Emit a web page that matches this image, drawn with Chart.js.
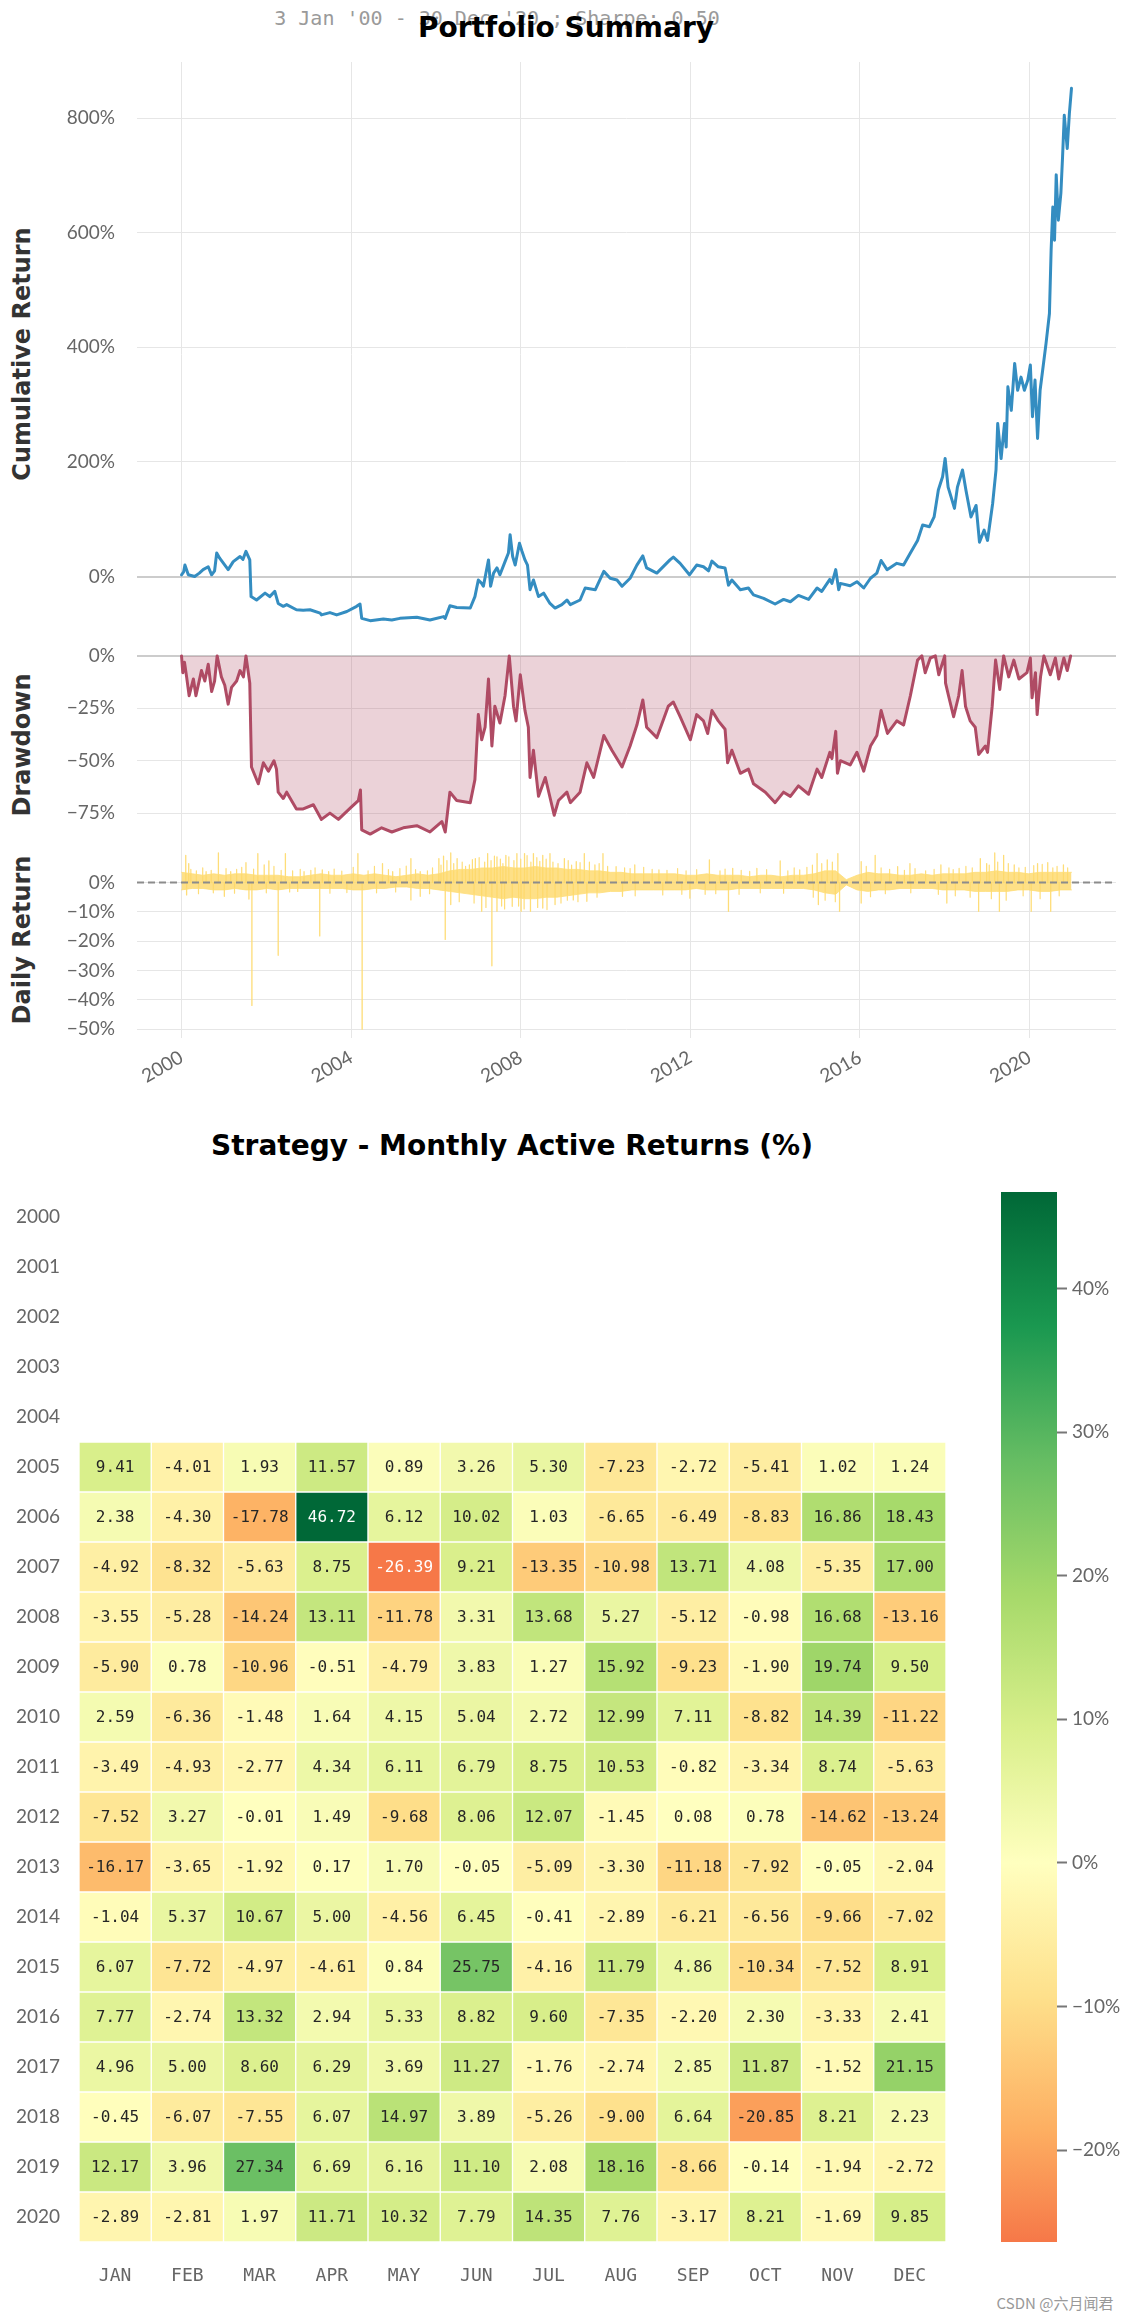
<!DOCTYPE html>
<html>
<head>
<meta charset="utf-8">
<script src="https://cdn.jsdelivr.net/npm/chart.js@4.4.1/dist/chart.umd.min.js"></script>
<style>
  body { margin: 0; background: #fff; width: 1139px; height: 2317px; position: relative; overflow: hidden; font-family: Lato, sans-serif; }
  canvas { position: absolute; }
  .txt { position: absolute; white-space: nowrap; transform: translate(-50%, -50%); line-height: 1; }
  .ylab { position: absolute; white-space: nowrap; font: bold 24px 'DejaVu Sans'; color: #333; line-height: 1;
          transform: translate(-50%, -50%) rotate(-90deg); }
</style>
</head>
<body>
<div class="txt" style="left:497px;top:18px;font:20px 'DejaVu Sans Mono';color:#9a9a9a;">3 Jan '00 - 30 Dec '20 ; Sharpe: 0.50</div>
<div class="txt" style="left:566px;top:27px;font:bold 28px 'DejaVu Sans';color:#000;">Portfolio Summary</div>
<div class="ylab" style="left:22px;top:354px;">Cumulative Return</div>
<div class="ylab" style="left:22px;top:745px;">Drawdown</div>
<div class="ylab" style="left:22px;top:940px;">Daily Return</div>
<div class="txt" style="left:512px;top:1145px;font:bold 28px 'DejaVu Sans';color:#000;">Strategy - Monthly Active Returns (%)</div>
<div class="txt" style="left:1055px;top:2302px;font:15px 'Noto Sans CJK SC';color:#999;">CSDN @六月闻君</div>

<canvas id="cum" width="1139" height="585" style="left:0;top:62px"></canvas>
<canvas id="dd" width="1139" height="196" style="left:0;top:647px"></canvas>
<canvas id="daily" width="1139" height="257" style="left:0;top:843px"></canvas>
<canvas id="heat" width="960" height="1120" style="left:0;top:1180px"></canvas>
<canvas id="cbar" width="138" height="1050" style="left:1001px;top:1192px"></canvas>

<script>
// ---- time axis
const yearTicks = [2000, 2004, 2008, 2012, 2016, 2020];
const X_MIN = 1998.95, X_MAX = 2022.04;

// ---- cumulative return (%)
const cumDates = [2000.00, 2000.05, 2000.08, 2000.16, 2000.31, 2000.42, 2000.51, 2000.63, 2000.71, 2000.78,
  2000.83, 2000.90, 2001.00, 2001.10, 2001.22, 2001.38, 2001.45, 2001.52, 2001.61, 2001.64,
  2001.77, 2001.97, 2002.08, 2002.20, 2002.28, 2002.40, 2002.48, 2002.71, 2002.87, 2003.03,
  2003.27, 2003.30, 2003.50, 2003.66, 2003.90, 2004.13, 2004.21, 2004.25, 2004.45, 2004.76,
  2004.96, 2005.15, 2005.55, 2005.86, 2006.18, 2006.22, 2006.33, 2006.49, 2006.81, 2006.92,
  2007.00, 2007.08, 2007.12, 2007.24, 2007.29, 2007.36, 2007.44, 2007.51, 2007.63, 2007.71,
  2007.75, 2007.81, 2007.87, 2007.97, 2008.03, 2008.10, 2008.16, 2008.22, 2008.30, 2008.42,
  2008.54, 2008.69, 2008.81, 2008.97, 2009.09, 2009.17, 2009.40, 2009.52, 2009.76, 2009.96,
  2010.11, 2010.27, 2010.39, 2010.58, 2010.74, 2010.88, 2010.97, 2011.21, 2011.52, 2011.60,
  2011.76, 2011.98, 2012.15, 2012.31, 2012.43, 2012.51, 2012.66, 2012.82, 2012.90, 2012.98,
  2013.18, 2013.37, 2013.49, 2013.73, 2014.00, 2014.20, 2014.36, 2014.55, 2014.79, 2014.99,
  2015.10, 2015.29, 2015.34, 2015.43, 2015.50, 2015.54, 2015.77, 2015.93, 2016.09, 2016.25,
  2016.40, 2016.50, 2016.64, 2016.87, 2017.03, 2017.19, 2017.36, 2017.48, 2017.64, 2017.75,
  2017.85, 2017.95, 2018.01, 2018.08, 2018.15, 2018.23, 2018.30, 2018.42, 2018.50, 2018.62,
  2018.74, 2018.82, 2018.93, 2019.01, 2019.13, 2019.21, 2019.25, 2019.33, 2019.41, 2019.45,
  2019.49, 2019.57, 2019.65, 2019.72, 2019.80, 2019.88, 2019.96, 2020.02, 2020.07, 2020.13,
  2020.19, 2020.25, 2020.31, 2020.39, 2020.47, 2020.51, 2020.55, 2020.59, 2020.63, 2020.68,
  2020.74, 2020.78, 2020.82, 2020.89, 2020.94, 2020.99];
const cumReturns = [3, 8, 20, 3, 0, 6, 12, 17, 3, 10,
  41, 32, 22, 12, 26, 35, 30, 44, 29, -35,
  -41, -29, -35, -26, -47, -52, -49, -58, -59, -58,
  -64, -67, -63, -67, -61, -52, -48, -73, -77, -74,
  -76, -73, -71, -76, -70, -73, -51, -54, -55, -35,
  -6, -12, -17, 29, -17, 6, 15, 3, 26, 41,
  73, 35, 20, 58, 44, 29, 20, -23, -6, -35,
  -29, -47, -55, -49, -41, -49, -41, -20, -23, 9,
  -3, -6, -17, -3, 20, 36, 15, 6, 29, 34,
  23, 3, 20, 17, 10, 27, 17, 15, -15, -6,
  -23, -20, -32, -38, -48, -40, -44, -33, -40, -20,
  -26, -5, -12, 12, -23, -12, -16, -9, -20, -3,
  6, 28, 12, 23, 20, 41, 63, 90, 87, 104,
  151, 174, 206, 156, 139, 119, 156, 186, 151, 104,
  124, 60, 81, 63, 127, 186, 267, 206, 267, 226,
  331, 290, 372, 325, 348, 325, 343, 369, 279, 343,
  241, 325, 360, 407, 459, 570, 645, 587, 701, 622,
  669, 733, 805, 747, 808, 852];
const cumTicks = [0, 200, 400, 600, 800];

// ---- drawdown (%)
const ddDates = [2000.00, 2000.03, 2000.07, 2000.12, 2000.18, 2000.28, 2000.34, 2000.47, 2000.55, 2000.63,
  2000.71, 2000.78, 2000.84, 2000.94, 2001.02, 2001.10, 2001.18, 2001.30, 2001.38, 2001.46,
  2001.52, 2001.61, 2001.65, 2001.81, 2001.93, 2002.05, 2002.18, 2002.24, 2002.28, 2002.40,
  2002.48, 2002.71, 2002.87, 2003.11, 2003.30, 2003.50, 2003.70, 2004.01, 2004.17, 2004.22,
  2004.25, 2004.45, 2004.72, 2004.96, 2005.23, 2005.55, 2005.86, 2006.14, 2006.22, 2006.33,
  2006.49, 2006.81, 2006.92, 2007.00, 2007.08, 2007.16, 2007.24, 2007.32, 2007.39, 2007.51,
  2007.63, 2007.73, 2007.83, 2007.89, 2007.99, 2008.10, 2008.18, 2008.22, 2008.30, 2008.42,
  2008.58, 2008.79, 2008.89, 2009.09, 2009.17, 2009.40, 2009.56, 2009.72, 2009.96, 2010.15,
  2010.39, 2010.58, 2010.74, 2010.88, 2010.97, 2011.21, 2011.48, 2011.60, 2011.76, 2012.00,
  2012.15, 2012.31, 2012.41, 2012.51, 2012.66, 2012.82, 2012.88, 2012.98, 2013.18, 2013.37,
  2013.49, 2013.77, 2014.00, 2014.20, 2014.36, 2014.55, 2014.79, 2014.99, 2015.10, 2015.29,
  2015.34, 2015.43, 2015.47, 2015.54, 2015.77, 2015.93, 2016.09, 2016.25, 2016.40, 2016.50,
  2016.65, 2016.87, 2017.03, 2017.19, 2017.36, 2017.46, 2017.54, 2017.66, 2017.78, 2017.86,
  2018.00, 2018.02, 2018.09, 2018.21, 2018.33, 2018.41, 2018.49, 2018.60, 2018.72, 2018.80,
  2018.96, 2019.01, 2019.12, 2019.20, 2019.30, 2019.39, 2019.51, 2019.63, 2019.75, 2019.94,
  2020.02, 2020.06, 2020.14, 2020.18, 2020.26, 2020.34, 2020.49, 2020.61, 2020.69, 2020.81,
  2020.89, 2020.97];
const ddValues = [0, -8, -3, -10, -19, -11, -19, -7, -12, -4,
  -17, -12, 0, -10, -14, -23, -15, -12, -7, -10,
  0, -13, -53, -61, -51, -55, -50, -54, -65, -68,
  -65, -73, -73, -71, -78, -75, -78, -72, -69, -64,
  -83, -85, -82, -84, -82, -81, -84, -79, -84, -65,
  -69, -70, -59, -28, -40, -34, -11, -43, -24, -32,
  -19, 0, -24, -31, -9, -26, -34, -58, -45, -67,
  -58, -76, -69, -65, -70, -65, -51, -58, -38, -45,
  -53, -43, -33, -21, -34, -39, -24, -22, -29, -40,
  -28, -31, -37, -26, -31, -35, -51, -45, -56, -54,
  -61, -65, -70, -65, -67, -62, -66, -54, -58, -46,
  -49, -36, -56, -50, -52, -46, -55, -43, -38, -26,
  -37, -31, -33, -19, -2, 0, -8, -1, 0, -9,
  0, -13, -19, -29, -19, -7, -24, -31, -34, -47,
  -43, -46, -24, -2, -16, 0, -10, -2, -11, -8,
  -1, -20, -8, -28, -10, 0, -9, -1, -11, -1,
  -7, 0];
const ddTicks = [0, -25, -50, -75];

// ---- daily return (%): quarterly envelope of the dense band
const dailyHi = [3.5, 3.0, 2.5, 3.0,  2.5, 3.0, 3.0, 2.5,  2.5, 2.5, 2.0, 2.0,  2.5, 3.0, 2.5, 2.5,
  3.0, 2.5, 3.0, 2.5,  2.0, 2.5, 3.0, 2.5,  3.0, 4.0, 4.5, 4.5,  5.0, 5.0, 5.5, 5.0,
  5.0, 5.5, 5.0, 5.0,  4.5, 4.5, 4.0, 4.0,  3.5, 3.5, 3.0, 3.0,  3.0, 3.0, 3.0, 2.5,
  2.5, 3.0, 2.5, 2.5,  2.5, 2.0, 2.5, 2.5,  2.0, 2.5, 2.5, 3.0,  4.0, 4.0, 1.0, 2.5,
  3.5, 3.0, 3.0, 2.5,  2.5, 3.0, 2.5, 3.0,  3.0, 3.0, 3.5, 3.5,  4.0, 3.5, 3.5, 3.0,
  3.5, 3.5, 3.5, 3.5];
const dailyLo = [-2.5, -2.0, -2.0, -2.5,  -2.5, -2.0, -2.5, -2.5,  -2.0, -2.5, -2.0, -2.0,  -2.0, -2.0, -2.0, -2.0,
  -2.5, -2.5, -2.0, -2.0,  -1.5, -1.5, -2.0, -2.0,  -2.5, -3.0, -3.5, -4.0,  -4.5, -5.0, -5.5, -5.0,
  -5.5, -5.5, -5.0, -5.0,  -4.5, -4.0, -3.5, -3.5,  -3.0, -3.0, -2.5, -2.5,  -2.5, -2.5, -2.5, -2.5,
  -2.0, -2.5, -2.5, -2.5,  -2.0, -2.0, -2.0, -2.0,  -2.0, -2.0, -2.0, -2.5,  -3.5, -4.0, -0.8, -2.5,
  -3.0, -2.5, -2.5, -2.0,  -2.0, -2.0, -2.0, -2.5,  -2.5, -2.5, -3.0, -3.0,  -3.0, -3.0, -2.5, -2.5,
  -3.0, -3.0, -2.5, -2.5];

// ---- daily return (%): single-day spikes that stick out of the band
const spikeDates = [2000.10, 2000.17, 2000.58, 2000.87, 2001.16, 2001.52, 2001.80, 2001.95, 2002.06, 2002.45,
  2002.89, 2003.32, 2003.47, 2004.16, 2004.74, 2004.98, 2005.41, 2005.63, 2006.07, 2006.18,
  2006.35, 2006.50, 2006.79, 2006.93, 2007.22, 2007.44, 2007.65, 2007.91, 2008.09, 2008.30,
  2008.52, 2008.69, 2009.03, 2009.31, 2009.50, 2009.75, 2009.94, 2010.25, 2010.69, 2011.26,
  2012.45, 2013.00, 2013.57, 2014.12, 2014.58, 2014.99, 2015.23, 2015.48, 2016.03, 2016.36,
  2016.89, 2017.18, 2017.91, 2018.34, 2018.84, 2018.99, 2019.18, 2019.39, 2019.64, 2020.19,
  2020.43, 2020.80,
  2000.12, 2001.01, 2001.59, 2001.66, 2002.28, 2002.74, 2003.26, 2004.26, 2005.41, 2005.63,
  2006.22, 2006.35, 2007.08, 2007.32, 2007.44, 2007.80, 2008.01, 2008.23, 2008.52, 2008.81,
  2009.24, 2009.56, 2010.40, 2011.99, 2012.90, 2015.02, 2015.52, 2016.03, 2018.05, 2018.80,
  2019.29, 2020.04, 2020.50];
const spikeValues = [9.3, 6.5, 3.7, 10.1, 3.7, 6.8, 9.9, 6.0, 7.4, 9.9,
  3.7, 4.3, 3.7, 9.9, 6.5, 3.7, 8.2, 3.7, 8.2, 9.0,
  10.1, 8.2, 6.0, 8.2, 9.9, 8.8, 9.3, 9.9, 9.9, 9.9,
  9.3, 9.9, 8.2, 7.1, 9.9, 6.0, 9.9, 5.4, 6.0, 4.3,
  7.7, 4.8, 4.8, 7.4, 4.3, 9.9, 7.7, 9.9, 7.1, 9.3,
  5.4, 6.5, 6.0, 4.8, 8.2, 6.5, 10.1, 9.3, 6.0, 6.5,
  6.8, 6.0,
  -4.2, -4.7, -5.6, -41.9, -24.8, -3.0, -18.2, -50.0, -5.9, -4.7,
  -19.4, -7.5, -9.8, -28.4, -9.8, -8.1, -9.8, -9.8, -8.7, -7.5,
  -5.9, -6.4, -4.7, -5.3, -9.8, -7.5, -9.8, -7.0, -7.0, -9.8,
  -9.8, -9.8, -9.8];

// ---- daily return (%): smaller spikes giving the band its ragged edge
const smallSpikeDates = [2000.22, 2000.35, 2000.50, 2000.70, 2001.05, 2001.30, 2001.42, 2001.70, 2002.18, 2002.35,
  2002.62, 2002.80, 2003.05, 2003.15, 2003.60, 2003.78, 2004.05, 2004.40, 2004.55, 2004.88,
  2005.15, 2005.30, 2005.52, 2005.80, 2005.92, 2006.12, 2006.26, 2006.42, 2006.62, 2006.70,
  2006.86, 2007.02, 2007.15, 2007.30, 2007.38, 2007.52, 2007.58, 2007.72, 2007.84, 2008.00,
  2008.15, 2008.24, 2008.38, 2008.45, 2008.60, 2008.76, 2008.88, 2009.12, 2009.20, 2009.40,
  2009.62, 2009.85, 2010.05, 2010.45, 2010.58, 2010.90, 2011.10, 2011.45, 2011.70, 2011.90,
  2012.15, 2012.70, 2012.82, 2013.20, 2013.40, 2013.80, 2014.30, 2014.45, 2014.75, 2014.88,
  2015.10, 2015.35, 2016.15, 2016.50, 2016.70, 2017.05, 2017.30, 2017.55, 2017.75, 2018.10,
  2018.20, 2018.50, 2018.65, 2019.05, 2019.25, 2019.50, 2019.75, 2019.90, 2020.10, 2020.30,
  2020.55, 2020.65, 2020.90,
  2000.40, 2000.75, 2001.25, 2002.00, 2002.55, 2003.50, 2003.90, 2004.60, 2005.05, 2005.85,
  2006.55, 2006.90, 2007.18, 2007.55, 2007.62, 2007.95, 2008.08, 2008.40, 2008.62, 2008.95,
  2009.10, 2009.35, 2009.80, 2010.70, 2011.35, 2011.80, 2012.35, 2012.60, 2013.15, 2013.65,
  2014.20, 2014.90, 2015.18, 2015.42, 2016.25, 2016.60, 2017.20, 2017.85, 2018.25, 2018.60,
  2019.10, 2019.45, 2019.85, 2020.25, 2020.70];
const smallSpikeValues = [4.5, 4.0, 5.0, 4.2, 4.8, 4.5, 5.2, 4.6, 5.5, 4.2,
  4.0, 4.5, 4.2, 5.0, 4.6, 3.9, 5.2, 4.0, 5.5, 4.4,
  4.8, 5.6, 4.4, 4.0, 5.0, 6.0, 7.5, 6.5, 7.0, 5.5,
  7.8, 8.5, 7.0, 7.5, 9.0, 8.0, 6.5, 8.8, 7.5, 8.0,
  9.2, 7.0, 8.5, 7.2, 8.0, 7.0, 6.5, 7.5, 6.0, 6.8,
  7.0, 6.5, 5.5, 5.0, 4.8, 5.2, 4.5, 4.2, 4.8, 4.0,
  4.4, 4.0, 4.6, 4.2, 3.8, 4.4, 4.0, 5.0, 5.2, 6.0,
  6.5, 7.0, 5.5, 5.0, 4.5, 4.2, 4.8, 4.0, 4.5, 5.0,
  4.4, 5.5, 5.0, 6.0, 7.0, 6.5, 5.0, 5.2, 5.8, 6.2,
  5.0, 5.5, 5.0,
  -3.8, -3.5, -3.6, -3.5, -3.2, -3.6, -3.4, -3.5, -3.2, -3.8,
  -6.5, -7.0, -8.5, -8.0, -9.0, -8.0, -9.0, -8.5, -9.2, -7.0,
  -6.0, -6.5, -5.0, -4.5, -4.2, -4.0, -4.0, -3.8, -4.0, -3.5,
  -3.6, -5.0, -6.0, -6.5, -4.8, -3.8, -3.5, -4.0, -4.5, -5.0,
  -5.5, -6.0, -4.5, -5.5, -4.5];
const dailyTicks = [0, -10, -20, -30, -40, -50];

// ---- monthly active returns heatmap (%)
const months = ['JAN', 'FEB', 'MAR', 'APR', 'MAY', 'JUN', 'JUL', 'AUG', 'SEP', 'OCT', 'NOV', 'DEC'];
const heatYears = [2000, 2001, 2002, 2003, 2004, 2005, 2006, 2007, 2008, 2009, 2010,
  2011, 2012, 2013, 2014, 2015, 2016, 2017, 2018, 2019, 2020];
const monthlyReturns = [
  null, null, null, null, null,
  [9.41, -4.01, 1.93, 11.57, 0.89, 3.26, 5.30, -7.23, -2.72, -5.41, 1.02, 1.24],
  [2.38, -4.30, -17.78, 46.72, 6.12, 10.02, 1.03, -6.65, -6.49, -8.83, 16.86, 18.43],
  [-4.92, -8.32, -5.63, 8.75, -26.39, 9.21, -13.35, -10.98, 13.71, 4.08, -5.35, 17.00],
  [-3.55, -5.28, -14.24, 13.11, -11.78, 3.31, 13.68, 5.27, -5.12, -0.98, 16.68, -13.16],
  [-5.90, 0.78, -10.96, -0.51, -4.79, 3.83, 1.27, 15.92, -9.23, -1.90, 19.74, 9.50],
  [2.59, -6.36, -1.48, 1.64, 4.15, 5.04, 2.72, 12.99, 7.11, -8.82, 14.39, -11.22],
  [-3.49, -4.93, -2.77, 4.34, 6.11, 6.79, 8.75, 10.53, -0.82, -3.34, 8.74, -5.63],
  [-7.52, 3.27, -0.01, 1.49, -9.68, 8.06, 12.07, -1.45, 0.08, 0.78, -14.62, -13.24],
  [-16.17, -3.65, -1.92, 0.17, 1.70, -0.05, -5.09, -3.30, -11.18, -7.92, -0.05, -2.04],
  [-1.04, 5.37, 10.67, 5.00, -4.56, 6.45, -0.41, -2.89, -6.21, -6.56, -9.66, -7.02],
  [6.07, -7.72, -4.97, -4.61, 0.84, 25.75, -4.16, 11.79, 4.86, -10.34, -7.52, 8.91],
  [7.77, -2.74, 13.32, 2.94, 5.33, 8.82, 9.60, -7.35, -2.20, 2.30, -3.33, 2.41],
  [4.96, 5.00, 8.60, 6.29, 3.69, 11.27, -1.76, -2.74, 2.85, 11.87, -1.52, 21.15],
  [-0.45, -6.07, -7.55, 6.07, 14.97, 3.89, -5.26, -9.00, 6.64, -20.85, 8.21, 2.23],
  [12.17, 3.96, 27.34, 6.69, 6.16, 11.10, 2.08, 18.16, -8.66, -0.14, -1.94, -2.72],
  [-2.89, -2.81, 1.97, 11.71, 10.32, 7.79, 14.35, 7.76, -3.17, 8.21, -1.69, 9.85]
];
const cbarTicks = [-20, -10, 0, 10, 20, 30, 40];

// ---- styling helpers
Chart.defaults.font.family = 'Lato';
const PLOT_LEFT = 137;
const GRID = '#e6e6e6';
const TICK_COLOR = '#666';
const YELLOW = '#fedd78';

function pct(v) {
  return (v < 0 ? '\u2212' + Math.abs(v) : String(v)) + '%';
}

function xAxis(labelHeight) {
  return {
    type: 'linear', min: X_MIN, max: X_MAX,
    afterBuildTicks: s => { s.ticks = yearTicks.map(v => ({ value: v })); },
    afterFit: s => { s.height = labelHeight; s.paddingLeft = 0; s.paddingRight = 0; },
    grid: { color: GRID, drawTicks: false },
    border: { display: false },
    ticks: {
      display: labelHeight > 0, autoSkip: false, minRotation: 30, maxRotation: 30, padding: 8,
      color: TICK_COLOR, font: { size: 19 }, callback: v => String(v)
    }
  };
}

function yAxis(min, max, ticks, zeroStrong) {
  return {
    min, max,
    afterBuildTicks: s => { s.ticks = ticks.map(v => ({ value: v })); },
    afterFit: s => { s.width = PLOT_LEFT; s.paddingTop = 0; s.paddingBottom = 0; },
    grid: {
      drawTicks: false,
      color: c => (zeroStrong && c.tick && c.tick.value === 0) ? '#cccccc' : GRID,
      lineWidth: c => (zeroStrong && c.tick && c.tick.value === 0) ? 2 : 1
    },
    border: { display: false },
    ticks: { padding: 22, color: TICK_COLOR, font: { size: 19 }, callback: v => pct(v) }
  };
}

const baseOpts = {
  responsive: false, animation: false,
  layout: { padding: { left: 0, right: 23, top: 0, bottom: 0 } },
  plugins: { legend: { display: false }, tooltip: { enabled: false } },
  elements: { point: { radius: 0 }, line: { tension: 0, borderJoinStyle: 'round', borderCapStyle: 'round' } }
};

function xy(xs, ys) {
  return xs.map((x, i) => ({ x, y: ys[i] }));
}

function spikes(xs, ys) {
  const pts = [];
  xs.forEach((x, i) => { pts.push({ x, y: 0 }, { x, y: ys[i] }, { x, y: null }); });
  return pts;
}

// ---- cumulative return
new Chart(document.getElementById('cum'), {
  type: 'line',
  data: { datasets: [{ data: xy(cumDates, cumReturns), borderColor: '#348dc1', borderWidth: 3 }] },
  options: { ...baseOpts, scales: { x: xAxis(0), y: yAxis(-123, 898, cumTicks, true) } }
});

// ---- drawdown
new Chart(document.getElementById('dd'), {
  type: 'line',
  data: {
    datasets: [{
      data: xy(ddDates, ddValues), borderColor: '#af4b64', borderWidth: 3,
      fill: 'origin', backgroundColor: 'rgba(175, 75, 100, 0.25)'
    }]
  },
  options: { ...baseOpts, scales: { x: xAxis(0), y: yAxis(-89.25, 4.25, ddTicks, true) } }
});

// ---- daily returns
const dailyDates = dailyHi.map((_, i) => 2000 + i * 20.99 / (dailyHi.length - 1));

const zeroLine = {
  id: 'zeroLine',
  afterDatasetsDraw(chart) {
    const { ctx, chartArea: a, scales: { y } } = chart;
    const py = y.getPixelForValue(0);
    ctx.save();
    ctx.strokeStyle = '#8c8c8c';
    ctx.lineWidth = 2;
    ctx.setLineDash([7, 4]);
    ctx.beginPath();
    ctx.moveTo(a.left, py);
    ctx.lineTo(a.right, py);
    ctx.stroke();
    ctx.restore();
  }
};

new Chart(document.getElementById('daily'), {
  type: 'line',
  data: {
    datasets: [
      { data: xy(dailyDates, dailyHi), borderColor: 'rgba(254, 221, 120, 0.8)', borderWidth: 1 },
      { data: xy(dailyDates, dailyLo), borderColor: 'rgba(254, 221, 120, 0.8)', borderWidth: 1,
        fill: '-1', backgroundColor: 'rgba(254, 216, 105, 0.8)' },
      { data: spikes(smallSpikeDates, smallSpikeValues), borderColor: YELLOW, borderWidth: 1.2, spanGaps: false },
      { data: spikes(spikeDates, spikeValues), borderColor: YELLOW, borderWidth: 1.3, spanGaps: false }
    ]
  },
  options: { ...baseOpts, scales: { x: xAxis(62), y: yAxis(-53, 13.5, dailyTicks, false) } },
  plugins: [zeroLine]
});

// ---- heatmap colours (seaborn RdYlGn centred at 0)
const RDYLGN = ['#a50026', '#d73027', '#f46d43', '#fdae61', '#fee08b', '#ffffbf',
  '#d9ef8b', '#a6d96a', '#66bd63', '#1a9850', '#006837'];
const allVals = monthlyReturns.filter(r => r).flat();
const vMin = Math.min(...allVals), vMax = Math.max(...allVals);
const vRange = Math.max(vMax, -vMin);

function hexRgb(h) {
  return [1, 3, 5].map(i => parseInt(h.slice(i, i + 2), 16));
}
function cmapRgb(v) {
  const t = Math.min(1, Math.max(0, (v + vRange) / (2 * vRange)));
  const p = t * 10, i = Math.min(9, Math.floor(p)), f = p - i;
  const a = hexRgb(RDYLGN[i]), b = hexRgb(RDYLGN[i + 1]);
  return a.map((c, k) => Math.round(c + (b[k] - c) * f));
}
function cmap(v) {
  const [r, g, b] = cmapRgb(v);
  return `rgb(${r},${g},${b})`;
}
function textColor(v) {
  const lin = cmapRgb(v).map(c => {
    c /= 255;
    return c <= 0.03928 ? c / 12.92 : Math.pow((c + 0.055) / 1.055, 2.4);
  });
  const lum = 0.2126 * lin[0] + 0.7152 * lin[1] + 0.0722 * lin[2];
  return lum > 0.408 ? '#262626' : '#ffffff';
}

const cellText = {
  id: 'cellText',
  afterDatasetsDraw(chart) {
    const ctx = chart.ctx;
    ctx.save();
    ctx.font = '16px "DejaVu Sans Mono"';
    ctx.textAlign = 'center';
    ctx.textBaseline = 'middle';
    chart.data.datasets.forEach((ds, di) => {
      chart.getDatasetMeta(di).data.forEach((el, j) => {
        const v = ds.values[j];
        ctx.fillStyle = textColor(v);
        ctx.fillText(v.toFixed(2), el.x, (el.y + el.base) / 2 + 1);
      });
    });
    ctx.restore();
  }
};

const heatSets = [];
monthlyReturns.forEach((row, r) => {
  if (!row) return;
  heatSets.push({
    label: String(heatYears[r]),
    values: row,
    data: row.map(() => [r - 0.5, r + 0.5]),
    backgroundColor: row.map(cmap),
    borderColor: '#ffffff', borderWidth: 1, borderSkipped: false,
    grouped: false, barPercentage: 1, categoryPercentage: 1
  });
});

new Chart(document.getElementById('heat'), {
  type: 'bar',
  data: { labels: months, datasets: heatSets },
  options: {
    responsive: false, animation: false,
    layout: { padding: { left: 0, right: 14, top: 12, bottom: 0 } },
    plugins: { legend: { display: false }, tooltip: { enabled: false } },
    scales: {
      x: {
        grid: { display: false, drawTicks: false }, border: { display: false },
        afterFit: s => { s.height = 58; s.paddingLeft = 0; s.paddingRight = 0; },
        ticks: { padding: 24, color: TICK_COLOR, font: { family: 'DejaVu Sans Mono', size: 18 } }
      },
      y: {
        type: 'linear', reverse: true, min: -0.5, max: heatYears.length - 0.5,
        afterBuildTicks: s => { s.ticks = heatYears.map((_, i) => ({ value: i })); },
        afterFit: s => { s.width = 79; s.paddingTop = 0; s.paddingBottom = 0; },
        grid: { display: false, drawTicks: false }, border: { display: false },
        ticks: { padding: 19, color: TICK_COLOR, font: { size: 19 }, callback: v => heatYears[v] }
      }
    }
  },
  plugins: [cellText]
});

// ---- colour bar
function cbarGradient(ctx) {
  const chart = ctx.chart;
  if (!chart.chartArea) return null;
  const y = chart.scales.y;
  const top = y.getPixelForValue(vMax), bottom = y.getPixelForValue(vMin);
  const g = chart.ctx.createLinearGradient(0, top, 0, bottom);
  const stops = [vMax];
  RDYLGN.forEach((_, k) => {
    const v = -vRange + k * vRange / 5;
    if (v < vMax && v > vMin) stops.push(v);
  });
  stops.push(vMin);
  stops.sort((a, b) => b - a).forEach(v => g.addColorStop((vMax - v) / (vMax - vMin), cmap(v)));
  return g;
}

new Chart(document.getElementById('cbar'), {
  type: 'bar',
  data: {
    labels: [''],
    datasets: [{
      data: [[vMin, vMax]], backgroundColor: cbarGradient, borderWidth: 0,
      barPercentage: 1, categoryPercentage: 1
    }]
  },
  options: {
    responsive: false, animation: false,
    layout: { padding: 0 },
    plugins: { legend: { display: false }, tooltip: { enabled: false } },
    scales: {
      x: { display: false },
      y: {
        position: 'right', min: vMin, max: vMax,
        afterBuildTicks: s => { s.ticks = cbarTicks.map(v => ({ value: v })); },
        afterFit: s => { s.width = 82; s.paddingTop = 0; s.paddingBottom = 0; },
        grid: { drawOnChartArea: false, drawTicks: true, tickLength: 10, tickColor: '#777', tickWidth: 2 },
        border: { display: false },
        ticks: { padding: 5, color: TICK_COLOR, font: { size: 19 }, callback: v => pct(v) }
      }
    }
  }
});
</script>
</body>
</html>
